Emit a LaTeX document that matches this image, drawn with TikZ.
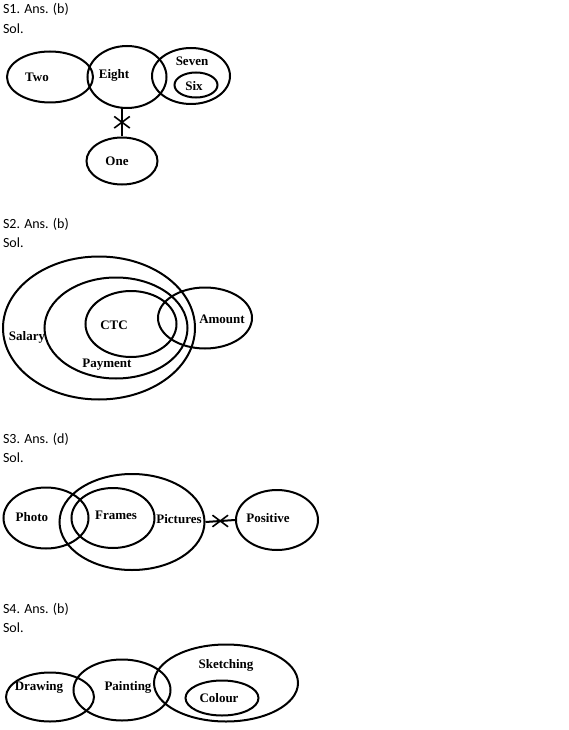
\documentclass[tikz,border=0pt]{standalone}
\usepackage{fontspec}
\newfontfamily\hdfont{Carlito}
\newfontfamily\lbfont{Liberation Serif}
\usetikzlibrary{shapes.geometric,shapes.misc}
\begin{document}
\begin{tikzpicture}[x=1pt,y=-1pt,line width=2pt,
  el/.style={draw,ellipse,inner sep=0pt},
  tx/.style={font=\lbfont\fontsize{13}{15}\selectfont\bfseries,inner sep=0pt},
  hd/.style={font=\hdfont\fontsize{14}{16}\selectfont,anchor=west,inner sep=0pt},
  xx/.style={draw,cross out,inner sep=0pt,minimum width=14pt,minimum height=10pt,line width=1.6pt}]
\useasboundingbox (0,0) rectangle (568,730);
% S1
\node[hd] (h1) at (2,9) {S1. Ans. (b)}; \node[hd] (s1) at (2,29) {Sol.};
\node[el,minimum width=86,minimum height=51] (two) at (50,77) {};
\node[el,minimum width=79,minimum height=62] (eig) at (127,77) {};
\node[el,minimum width=78,minimum height=56] (sev) at (191,76) {};
\node[el,minimum width=43,minimum height=25] (six) at (196,85) {};
\node[el,minimum width=71,minimum height=47] (one) at (122,161) {};
\node[tx] at (37,77) {Two}; \node[tx] at (114,75) {Eight}; \node[tx] at (192,61) {Seven};
\node[tx] at (194,86) {Six}; \node[tx] at (117,161) {One};
\draw (122,108) -- node[xx] {} (one.north);
% S2
\node[hd] (h2) at (2,224) {S2. Ans. (b)}; \node[hd] (s2) at (2,243) {Sol.};
\node[el,minimum width=192,minimum height=143] (sal) at (99,328) {};
\node[el,minimum width=143,minimum height=101] (pay) at (116,328) {};
\node[el,minimum width=91,minimum height=66] (ctc) at (131,324) {};
\node[el,minimum width=94,minimum height=61] (amt) at (205,318) {};
\node[tx] at (114,325) {CTC}; \node[tx] at (222,319) {Amount};
\node[tx] at (27,337) {Salary}; \node[tx] at (107,365) {Payment};
% S3
\node[hd] (h3) at (2,439) {S3. Ans. (d)}; \node[hd] (s3) at (2,458) {Sol.};
\node[el,minimum width=85,minimum height=61] (pho) at (46,518) {};
\node[el,minimum width=145,minimum height=96] (pic) at (132,522) {};
\node[el,minimum width=83,minimum height=60] (fra) at (113,518) {};
\node[el,minimum width=82,minimum height=60] (pos) at (277,520) {};
\node[tx] at (32,517) {Photo}; \node[tx] at (116,515) {Frames};
\node[tx] at (179,519) {Pictures}; \node[tx] at (268,518) {Positive};
\draw (pic.east) -- node[xx] {} (pos.west);
% S4
\node[hd] (h4) at (2,609) {S4. Ans. (b)}; \node[hd] (s4) at (2,628) {Sol.};
\node[el,minimum width=88,minimum height=49] (dra) at (50,697) {};
\node[el,minimum width=97,minimum height=61] (pai) at (122,690) {};
\node[el,minimum width=144,minimum height=77] (ske) at (226,683) {};
\node[el,minimum width=73,minimum height=35] (col) at (222,698) {};
\node[tx] at (39,687) {Drawing}; \node[tx] at (128,687) {Painting};
\node[tx] at (226,665) {Sketching}; \node[tx] at (219,698) {Colour};
\end{tikzpicture}
\end{document}
